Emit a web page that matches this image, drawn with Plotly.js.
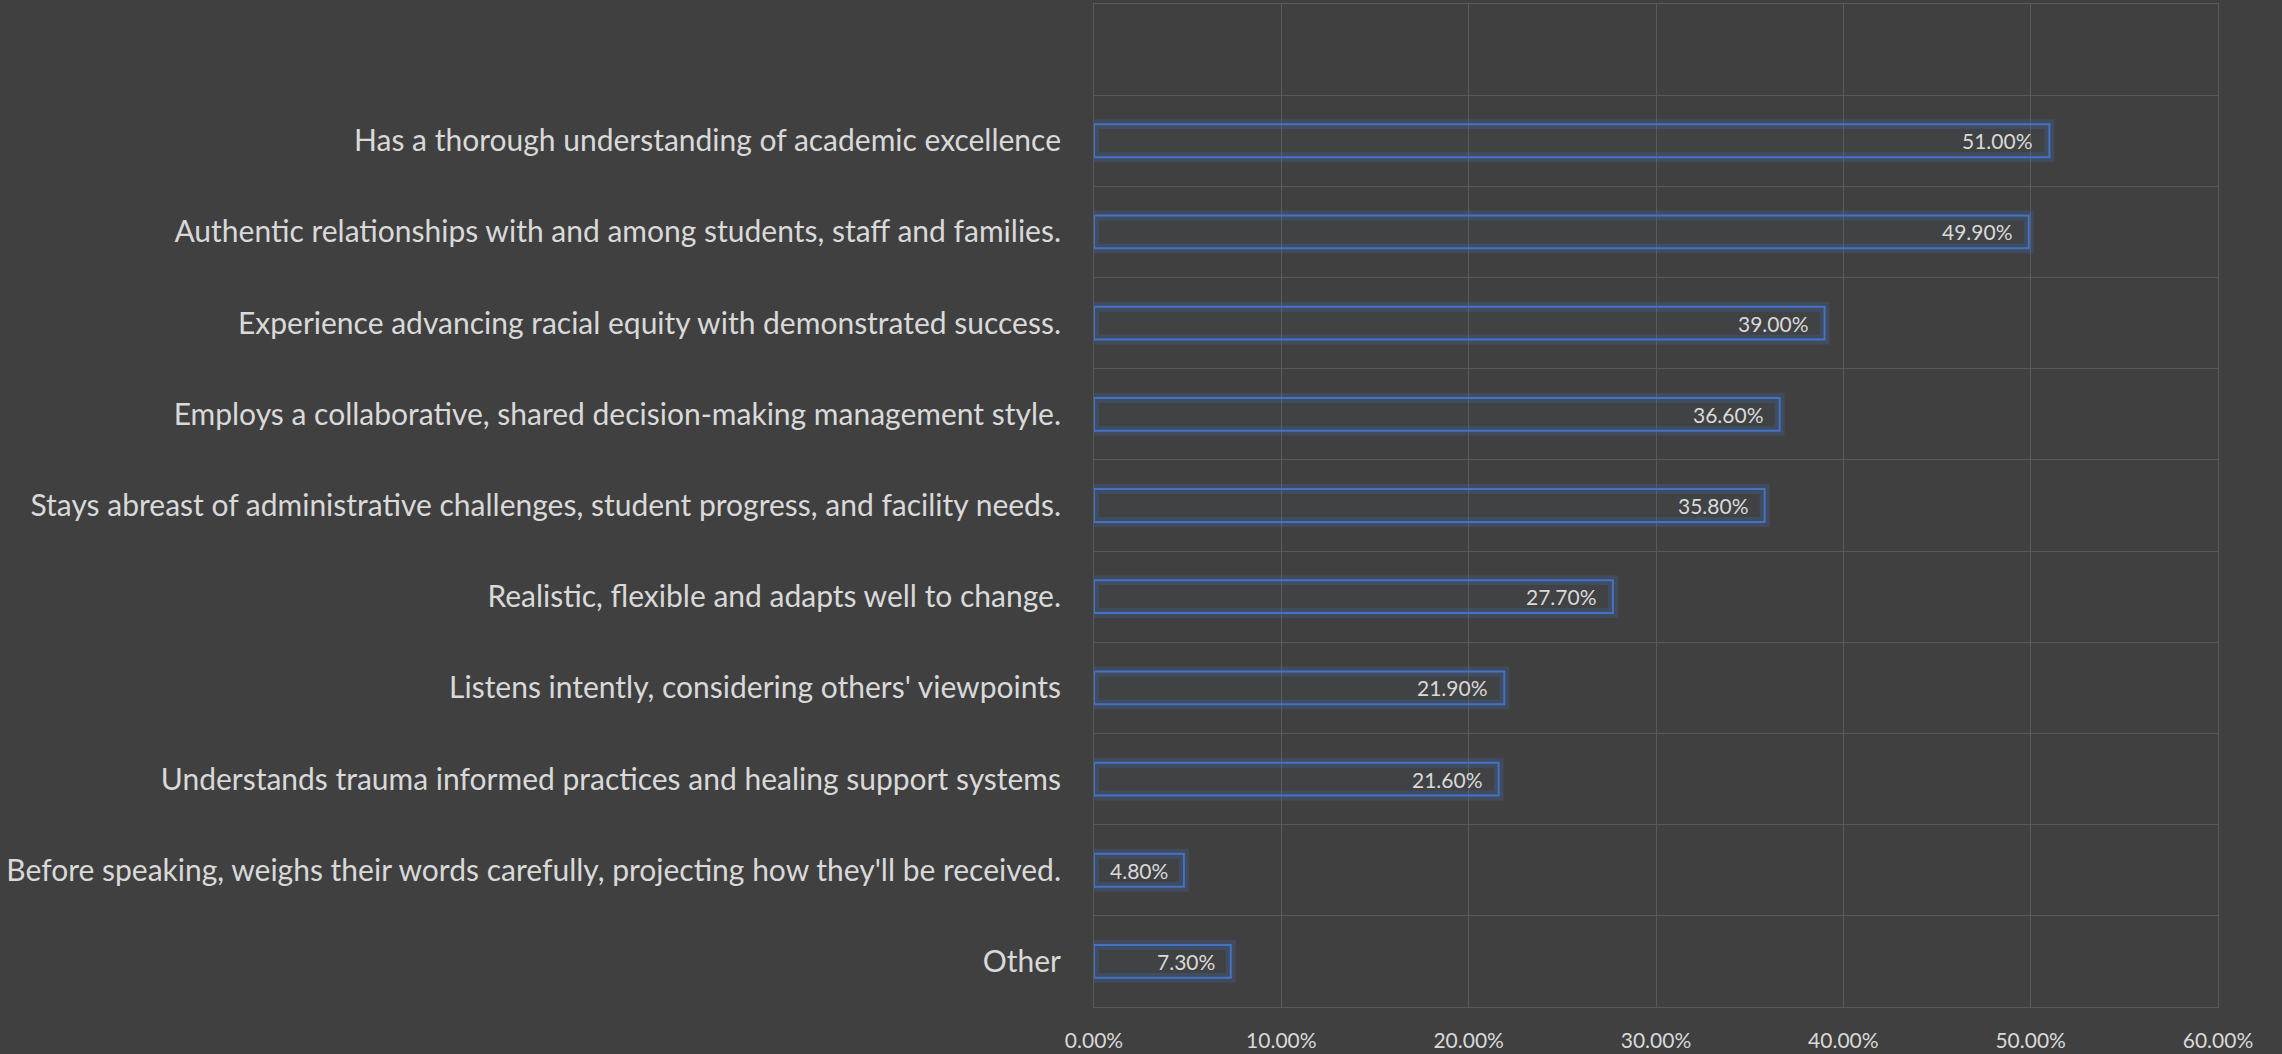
<!DOCTYPE html>
<html>
<head>
<meta charset="utf-8">
<script src="https://cdn.plot.ly/plotly-3.0.1.min.js"></script>
<style>
  html, body { margin: 0; padding: 0; background: #404040; }
  #chart { width: 2282px; height: 1054px; }
</style>
</head>
<body>
<div id="chart"></div>
<script>
// Categories listed top to bottom as shown
const categories = [
  "Has a thorough understanding of academic excellence",
  "Authentic relationships with and among students, staff and families.",
  "Experience advancing racial equity with demonstrated success.",
  "Employs a collaborative, shared decision-making management style.",
  "Stays abreast of administrative challenges, student progress, and facility needs.",
  "Realistic, flexible and adapts well to change.",
  "Listens intently, considering others' viewpoints",
  "Understands trauma informed practices and healing support systems",
  "Before speaking, weighs their words carefully, projecting how they'll be received.",
  "Other"
];
const shares = [0.51, 0.499, 0.39, 0.366, 0.358, 0.277, 0.219, 0.216, 0.048, 0.073];
const xTickValues = [0, 0.1, 0.2, 0.3, 0.4, 0.5, 0.6];

const FONT = "Lato, 'Open Sans', sans-serif";
const TXT = "#d9d9d9";
const GRID = "#595959";
const BLUE = "#4472C4";

const glow = {
  type: "bar", orientation: "h",
  x: shares, y: categories,
  marker: { color: "rgba(68,114,196,0.0)", line: { color: "rgba(68,114,196,0.22)", width: 10 } },
  hoverinfo: "skip", showlegend: false
};
const bars = {
  type: "bar", orientation: "h",
  x: shares, y: categories,
  marker: { color: "rgba(68,114,196,0.03)", line: { color: BLUE, width: 2 } },
  hoverinfo: "skip", showlegend: false
};

const annotations = shares.map((v, i) => ({
  x: v, y: categories[i], xref: "x", yref: "y",
  text: (v * 100).toFixed(2) + "%",
  showarrow: false, xanchor: "right", yanchor: "middle", xshift: -14,
  font: { family: FONT, size: 21, color: TXT }
}));

const layout = {
  width: 2282, height: 1054,
  paper_bgcolor: "#404040", plot_bgcolor: "#404040",
  margin: { l: 1094, r: 64, t: 4, b: 47, pad: 0 },
  barmode: "overlay", bargap: 0.64,
  showlegend: false,
  font: { family: FONT, color: TXT },
  xaxis: {
    range: [0, 0.6], tickvals: xTickValues, tickformat: ".2%",
    showgrid: true, gridcolor: GRID, gridwidth: 1,
    zeroline: false, showline: true, mirror: true, linecolor: GRID, linewidth: 1,
    ticks: "", ticklabelstandoff: 15,
    tickfont: { family: FONT, size: 21, color: TXT },
    fixedrange: true
  },
  yaxis: {
    type: "category", categoryorder: "array", categoryarray: categories,
    range: [9.5, -1.5], autorange: false,
    tickson: "boundaries", showgrid: true, gridcolor: GRID, gridwidth: 1,
    showline: true, mirror: true, linecolor: GRID, linewidth: 1,
    ticks: "", ticklabelstandoff: 26,
    tickfont: { family: FONT, size: 30, color: TXT },
    fixedrange: true
  },
  annotations: annotations
};

Plotly.newPlot("chart", [glow, bars], layout, { staticPlot: true, displayModeBar: false });
</script>
</body>
</html>
